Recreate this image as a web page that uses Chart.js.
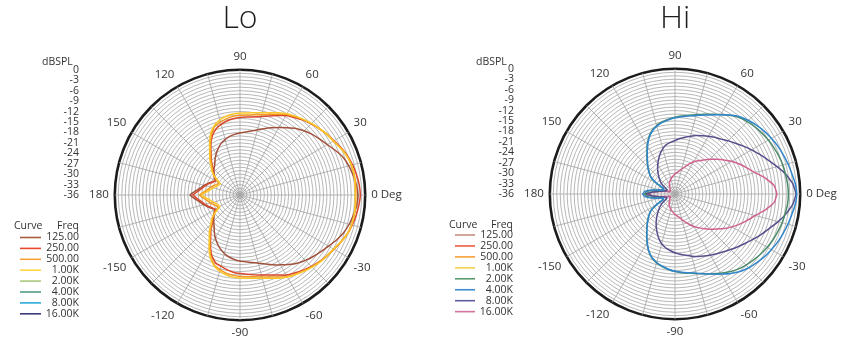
<!DOCTYPE html>
<html>
<head>
<meta charset="utf-8">
<script src="https://cdn.jsdelivr.net/npm/chart.js@4.4.1/dist/chart.umd.min.js"></script>
<style>
  html, body { margin: 0; padding: 0; width: 841px; height: 356px; overflow: hidden; background: #ffffff; }
  .wrap { position: absolute; top: 0; }
  .title { position: absolute; top: 0; width: 120px; margin-left: -60px; text-align: center;
           font-family: "Open Sans", "Noto Sans", sans-serif; font-weight: 300; font-size: 32px;
           line-height: 32px; color: #1e1e1e; }
</style>
</head>
<body>
<div class="wrap" style="left:0px"><canvas id="lo" width="430" height="356"></canvas></div>
<div class="wrap" style="left:420px"><canvas id="hi" width="445" height="356"></canvas></div>
<div class="title" style="left:240px">Lo</div>
<div class="title" style="left:675px">Hi</div>
<script>
// ---------------- data ----------------
// sample spacing of the polar measurements (degrees); each series lists
// values at 0,5,10,...,180 then 185(-175) ... 355(-5) degrees, in dB
const angleStep = 5;
const angleTickLabels = ['0 Deg','30','60','90','120','150','180','-150','-120','-90','-60','-30']; // at 0,30,...,330 deg
const dbTicks = [0,-3,-6,-9,-12,-15,-18,-21,-24,-27,-30,-33,-36];
const dbUnit = 'dBSPL';
const freqLabels = ['125.00','250.00','500.00','1.00K','2.00K','4.00K','8.00K','16.00K'];

// "Lo" chart curves
const lo125 = [-2.1,-2.4,-3.0,-3.6,-4.4,-5.7,-7.0,-8.0,-8.9,-9.9,-11.0,-12.4,-13.6,-14.7,-15.7,-16.6,-17.3,-17.8,-18.2,-18.5,-18.9,-19.5,-20.2,-21.2,-22.3,-23.5,-24.7,-25.4,-26.3,-27.2,-27.9,-27.1,-26.2,-25.3,-24.4,-23.1,-21.6,
  -23.0,-24.3,-25.2,-26.1,-27.0,-27.8,-27.1,-26.2,-25.3,-24.4,-23.1,-21.8,-20.6,-19.5,-18.6,-17.9,-17.4,-17.0,-16.7,-16.3,-15.7,-14.9,-13.9,-12.8,-11.6,-10.4,-9.4,-8.5,-7.6,-6.6,-5.4,-4.3,-3.5,-2.9,-2.3];
const lo250 = [-1.4,-1.6,-2.0,-2.5,-3.1,-3.9,-4.8,-5.5,-6.3,-7.1,-7.9,-8.8,-9.6,-10.8,-11.8,-12.6,-13.2,-13.5,-13.7,-14.0,-14.4,-15.0,-15.8,-17.2,-19.2,-21.5,-23.2,-25.0,-26.0,-27.0,-27.8,-27.3,-26.5,-25.7,-24.9,-23.8,-22.4,
  -23.7,-24.8,-25.6,-26.4,-27.2,-27.7,-26.9,-25.9,-24.9,-23.0,-21.3,-19.0,-16.8,-15.3,-14.8,-14.2,-13.7,-13.4,-13.1,-12.7,-12.2,-11.5,-10.6,-9.4,-8.6,-7.8,-7.0,-6.2,-5.5,-4.8,-4.0,-3.2,-2.6,-2.1,-1.7];
const lo500 = [-2.7,-2.6,-2.6,-2.8,-3.3,-4.1,-5.0,-5.6,-6.3,-7.0,-7.7,-8.5,-9.2,-10.4,-11.3,-12.1,-12.6,-12.9,-13.1,-13.3,-13.7,-14.3,-14.9,-16.6,-18.9,-21.2,-22.9,-24.6,-25.7,-27.2,-28.8,-28.7,-28.0,-27.3,-26.6,-25.6,-24.3,
  -25.5,-26.5,-27.2,-27.9,-28.6,-28.7,-27.1,-25.6,-24.5,-22.7,-21.0,-18.6,-16.2,-14.5,-13.8,-13.2,-12.8,-12.6,-12.4,-12.1,-11.6,-10.9,-10.0,-8.9,-8.2,-7.5,-6.8,-6.1,-5.5,-4.9,-4.0,-3.2,-2.8,-2.6,-2.6];
const lo1k = [-2.9,-2.8,-2.7,-2.8,-3.3,-4.1,-5.0,-5.5,-6.2,-6.9,-7.6,-8.3,-9.0,-9.9,-10.8,-11.5,-12.0,-12.3,-12.4,-12.6,-13.0,-13.6,-14.6,-16.2,-18.5,-20.8,-22.5,-24.2,-25.5,-27.5,-29.4,-29.3,-28.7,-28.0,-27.3,-26.3,-25.0,
  -26.2,-27.3,-28.0,-28.7,-29.2,-29.3,-27.4,-25.4,-24.1,-22.3,-20.6,-18.2,-15.9,-14.3,-13.3,-12.7,-12.3,-12.1,-12.0,-11.7,-11.2,-10.5,-9.6,-8.8,-8.1,-7.4,-6.7,-6.0,-5.4,-4.9,-4.0,-3.2,-2.8,-2.7,-2.8];

// "Hi" chart curves
const hi2k = [-3.4,-3.5,-3.7,-3.9,-4.2,-4.6,-5.0,-5.5,-6.0,-6.6,-7.3,-8.4,-9.6,-10.7,-11.6,-12.4,-13.0,-13.5,-13.9,-14.4,-14.9,-15.6,-16.6,-18.1,-20.0,-21.9,-23.5,-24.9,-26.2,-27.5,-29.8,-32.2,-32.5,-31.7,-29.8,-27.9,-27.3,
  -27.9,-29.8,-31.6,-32.4,-32.1,-29.7,-27.4,-26.1,-24.8,-23.4,-21.8,-19.9,-18.0,-16.5,-15.5,-14.8,-14.2,-13.7,-13.3,-12.9,-12.3,-11.6,-10.7,-9.7,-8.7,-7.8,-7.1,-6.5,-5.9,-5.4,-4.9,-4.5,-4.1,-3.8,-3.5];
const hi4k = [-1.0,-1.3,-1.9,-2.4,-2.9,-3.4,-4.0,-4.6,-5.3,-6.1,-7.0,-8.3,-9.7,-10.9,-11.8,-12.6,-13.2,-13.7,-14.1,-14.6,-15.1,-15.8,-16.8,-18.3,-20.2,-22.1,-23.7,-25.0,-26.3,-27.6,-30.0,-32.4,-32.6,-31.5,-29.4,-27.3,-26.7,
  -27.3,-29.3,-31.4,-32.5,-32.3,-29.9,-27.5,-26.2,-24.9,-23.5,-21.9,-20.0,-18.1,-16.6,-15.6,-14.9,-14.3,-13.8,-13.4,-13.0,-12.4,-11.6,-10.6,-9.4,-8.1,-6.9,-6.0,-5.3,-4.6,-4.0,-3.4,-2.9,-2.4,-1.9,-1.3];
const hi8k = [-1.2,-2.0,-3.6,-5.6,-7.5,-9.1,-10.6,-12.0,-13.3,-14.4,-15.4,-16.1,-16.8,-17.5,-18.1,-18.8,-19.4,-20.0,-20.6,-21.1,-21.6,-22.5,-23.6,-24.9,-26.1,-27.3,-28.5,-29.6,-30.5,-31.8,-33.1,-33.5,-33.3,-32.7,-31.5,-29.6,-27.4,
  -29.6,-31.5,-32.7,-33.3,-33.4,-33.0,-31.7,-30.4,-29.3,-28.0,-26.6,-25.2,-23.8,-22.4,-21.2,-20.3,-19.7,-19.1,-18.6,-18.1,-17.5,-16.9,-16.3,-15.7,-15.0,-14.3,-13.4,-12.4,-11.3,-10.0,-8.6,-7.1,-5.3,-3.5,-2.0];
const hi16k = [-6.7,-7.4,-9.6,-12.2,-14.0,-15.6,-17.2,-18.9,-20.5,-21.9,-23.2,-24.3,-25.3,-26.5,-27.7,-28.6,-29.3,-29.8,-30.2,-30.7,-31.1,-31.5,-31.9,-32.3,-32.7,-33.3,-33.7,-34.0,-34.2,-34.4,-34.5,-34.4,-33.9,-33.2,-31.8,-29.6,-28.2,
  -29.6,-31.8,-33.2,-33.9,-34.4,-34.5,-34.4,-34.2,-33.9,-33.6,-33.2,-32.6,-32.2,-31.8,-31.4,-31.0,-30.6,-30.1,-29.7,-29.2,-28.4,-27.5,-26.4,-25.2,-24.2,-23.0,-21.7,-20.3,-18.7,-17.1,-15.5,-13.9,-12.1,-9.6,-7.4];

// ---------------- styles ----------------
const loLegendColors = ['#a65a3e','#e8482e','#f7a23c','#fdd542','#a9c97f','#4e9c82','#2fa9dc','#3b3a7a'];
const hiLegendColors = ['#c4907e','#ef5a3c','#f6a035','#f7d24a','#5b9b6e','#3a8bd2','#5c5a9c','#d2749f'];
const FONT = '"Open Sans", "Noto Sans", sans-serif';
const TEXT = '#333333';
const GRID = '#a4a4a4';

// radar index 0 is at the top (90 deg) and runs clockwise
const N = 360 / angleStep;
const radarAngles = Array.from({length: N}, (_, i) => (((90 - i * angleStep) % 360) + 360) % 360);
const radarLabels = radarAngles.map(a => (a % 30 === 0 ? angleTickLabels[a / 30] : ''));
const toRadar = s => radarAngles.map(a => s[a / angleStep]);

const sidePlugin = {
  id: 'side',
  afterDraw(chart, args, o) {
    const ctx = chart.ctx, r = chart.scales.r;
    ctx.save();
    ctx.fillStyle = TEXT;
    ctx.font = '10.5px ' + FONT;
    ctx.textBaseline = 'middle';
    // dB column aligned with the rings
    ctx.textAlign = 'right';
    dbTicks.forEach(v => {
      const y = r.yCenter - r.getDistanceFromCenterForValue(v);
      ctx.fillText(String(v), o.tickX, y);
    });
    ctx.textAlign = 'left';
    ctx.fillText(dbUnit, o.unitX, o.unitY);
    // legend table
    ctx.fillText('Curve', o.legX, o.legY);
    ctx.textAlign = 'right';
    ctx.fillText('Freq', o.textRight, o.legY);
    freqLabels.forEach((f, i) => {
      const y = o.rowY + i * o.rowH;
      ctx.strokeStyle = o.colors[i];
      ctx.lineWidth = 1.6;
      ctx.beginPath();
      ctx.moveTo(o.lineX0, y);
      ctx.lineTo(o.lineX1, y);
      ctx.stroke();
      ctx.fillText(f, o.textRight, y);
    });
    ctx.restore();
  }
};

function makeChart(id, series, colors, padding, side) {
  return new Chart(document.getElementById(id), {
    type: 'radar',
    data: {
      labels: radarLabels,
      datasets: series.map((s, i) => ({
        data: toRadar(s),
        borderColor: colors[i],
        borderWidth: 1.5,
        pointRadius: 0,
        fill: false,
        tension: 0.1
      }))
    },
    options: {
      responsive: false,
      animation: false,
      events: [],
      layout: { padding },
      plugins: { legend: { display: false }, tooltip: { enabled: false }, side },
      scales: {
        r: {
          min: -36, max: 0,
          ticks: { display: false, stepSize: 1 },
          grid: {
            circular: true,
            color: c => (c.tick && c.tick.value === 0 ? '#1c1c1c' : GRID),
            lineWidth: c => (c.tick && c.tick.value === 0 ? 2.6 : 0.8)
          },
          angleLines: {
            color: GRID,
            lineWidth: c => (radarAngles[c.index] % 15 === 0 ? 0.8 : 0)
          },
          pointLabels: {
            font: { family: FONT, size: 11.5 },
            color: TEXT,
            padding: 6
          }
        }
      }
    },
    plugins: [sidePlugin]
  });
}

// first dataset is drawn on top
makeChart('lo', [lo1k, lo500, lo250, lo125], ['#fcc72a', '#f59a24', '#d9472c', '#a0523c'],
  { left: 50, right: 0, top: 51, bottom: 15 },
  { tickX: 79, unitX: 42, unitY: 62, legX: 14, legY: 226, textRight: 79, rowY: 237.5, rowH: 10.9,
    lineX0: 20, lineX1: 41, colors: loLegendColors });

makeChart('hi', [hi4k, hi2k, hi8k, hi16k], ['#2f86cc', '#4d8c6a', '#55508c', '#d0628f'],
  { left: 65, right: 0, top: 50, bottom: 16 },
  { tickX: 94, unitX: 56, unitY: 62, legX: 29, legY: 225, textRight: 93, rowY: 235, rowH: 10.95,
    lineX0: 35, lineX1: 55, colors: hiLegendColors });
</script>
</body>
</html>
